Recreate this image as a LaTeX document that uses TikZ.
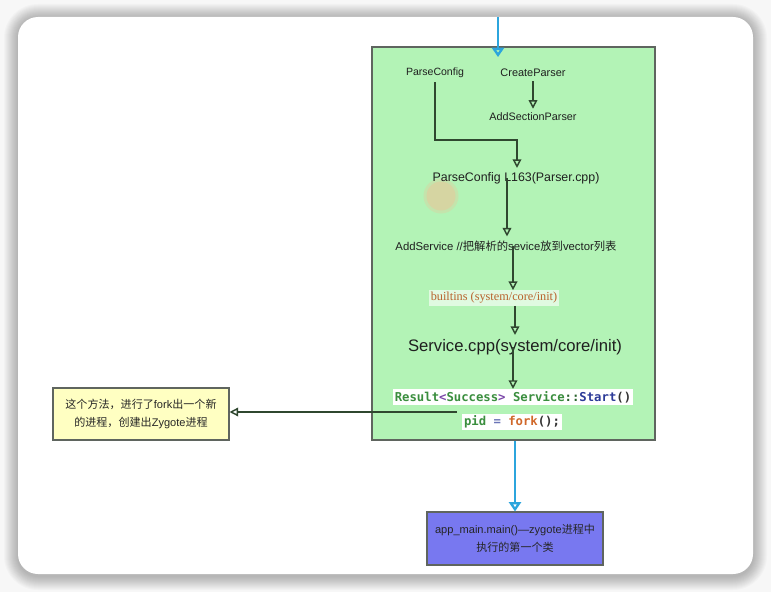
\documentclass[tikz,border=0pt]{standalone}
\usepackage{fontspec}
\setmainfont{Liberation Sans}
\newfontfamily\cjk{Noto Sans CJK SC}
\newfontfamily\codefont{DejaVu Sans Mono}
\newfontfamily\serifbit{Liberation Serif}
\usetikzlibrary{arrows.meta}

\definecolor{pagebg}{HTML}{F7F7F7}
\definecolor{greenfill}{HTML}{B3F3B6}
\definecolor{boxline}{HTML}{5F655F}
\definecolor{darkline}{HTML}{2F472F}
\definecolor{flowblue}{HTML}{2CA5DD}
\definecolor{notefill}{HTML}{FFFFC2}
\definecolor{mainfill}{HTML}{7878F0}
\definecolor{kwgreen}{HTML}{3A8E3E}
\definecolor{kwpurple}{HTML}{7A46A8}
\definecolor{kwnavy}{HTML}{2C3A98}
\definecolor{kworange}{HTML}{D0682A}
\definecolor{builtinclr}{HTML}{B8622C}
\definecolor{pointerclr}{HTML}{EDC398}

\tikzset{
  lbl/.style={inner sep=3pt, text=black!88},
  codelbl/.style={inner sep=1.5pt, fill=white, font=\codefont\bfseries\fontsize{9.2}{11}\selectfont},
  garrow/.style={draw=darkline, line width=1.1pt, -{Triangle[open, length=6.5pt, width=6.5pt]}},
  barrow/.style={draw=flowblue, line width=1.8pt, -{Triangle[open, length=7pt, width=9pt]}},
  notebox/.style={draw=boxline, line width=0.8pt, inner sep=0pt, align=center,
    font=\fontsize{8.3}{13.2}\selectfont, text=black!85},
}

\begin{document}
\begin{tikzpicture}[x=0.75pt, y=-0.75pt]
  \useasboundingbox (0,0) rectangle (771,592);
  % page, soft shadow and card
  \fill[pagebg] (0,0) rectangle (771,592);
  \foreach \g in {14,13,...,1}
    \fill[black, opacity=0.018, rounded corners=15pt+\g*0.75pt]
      (18-\g,17-\g+1) rectangle (753+\g,574+\g+2);
  \fill[white, rounded corners=15pt] (18,17) rectangle (753,574);
  \coordinate (cardtop) at (498,17);

  % main green panel
  \node[draw=boxline, line width=0.9pt, fill=greenfill, inner sep=0pt,
        minimum width=212.25pt, minimum height=294.75pt] (panel) at (513.5,243.5) {};

  % pointer highlight with a soft rim
  \fill[pointerclr, opacity=0.3] (441,196) circle (17.5);
  \fill[pointerclr, opacity=0.45] (441,196) circle (14.5);

  % labels inside the panel
  \node[lbl, font=\fontsize{7.9}{9}\selectfont] (pc) at (435,73) {ParseConfig};
  \node[lbl, font=\fontsize{8.2}{9}\selectfont] (cp) at (533,73) {CreateParser};
  \node[lbl, font=\fontsize{8.1}{9}\selectfont] (asp) at (533,117) {AddSectionParser};
  \node[lbl, font=\fontsize{9.3}{11}\selectfont] (pcl) at (516,178) {ParseConfig L163(Parser.cpp)};
  \node[lbl, font=\fontsize{8.5}{10}\selectfont] (as) at (506,246)
    {AddService //{\cjk 把解析的}sevice{\cjk 放到}vector{\cjk 列表}};
  \node[inner sep=1.5pt, fill=white, fill opacity=0.6, text opacity=1, text=builtinclr,
        font=\serifbit\fontsize{9.2}{11}\selectfont] (bi) at (494,298) {builtins (system/core/init)};
  \node[lbl, font=\fontsize{12.5}{14}\selectfont] (svc) at (515,347) {Service.cpp(system/core/init)};
  \node[codelbl] (start) at (513,397)
    {\textcolor{kwgreen}{Result}\textcolor{kwpurple}{<}\textcolor{kwgreen}{Success}\textcolor{kwpurple}{>} \textcolor{kwgreen}{Service}\textcolor{kwgreen!70!black}{::}\textcolor{kwnavy}{Start}\textcolor{black!80}{()}};
  \node[codelbl] (pid) at (512,422)
    {\textcolor{kwgreen}{pid} \textcolor{kwnavy!70}{=} \textcolor{kworange}{fork}\textcolor{black!80}{();}};
  \coordinate (forkpt) at (457,412);

  % side note and next step
  \node[notebox, fill=notefill, minimum width=132pt, minimum height=39pt] (note) at (141,414)
    {{\cjk 这个方法，进行了}fork{\cjk 出一个新}\\{\cjk 的进程，创建出}Zygote{\cjk 进程}};
  \node[notebox, fill=mainfill, minimum width=132pt, minimum height=39.75pt] (appmain) at (515,538.5)
    {app\_main.main()—zygote{\cjk 进程中}\\{\cjk 执行的第一个类}};

  % flow inside the panel
  \draw[garrow] (pc.south) -- (pc.south |- 0,140) -| (pcl.north -| 517,0);
  \draw[garrow] (cp.south) -- (asp.north);
  \draw[garrow] (pcl.center -| 507,0) -- (as.north -| 507,0);
  \draw[garrow] (as.center -| 513,0) -- (bi.north -| 513,0);
  \draw[garrow] (bi.south -| 515,0) -- (svc.north -| 515,0);
  \draw[garrow] (svc.center -| 513,0) -- (start.north -| 513,0);
  \draw[garrow] (forkpt) -- (note.east |- forkpt);

  % flow between stages
  \draw[barrow] (cardtop) -- ([yshift=-8pt]panel.north -| cardtop);
  \draw[barrow] (panel.south -| appmain.north) -- (appmain.north);
\end{tikzpicture}
\end{document}
